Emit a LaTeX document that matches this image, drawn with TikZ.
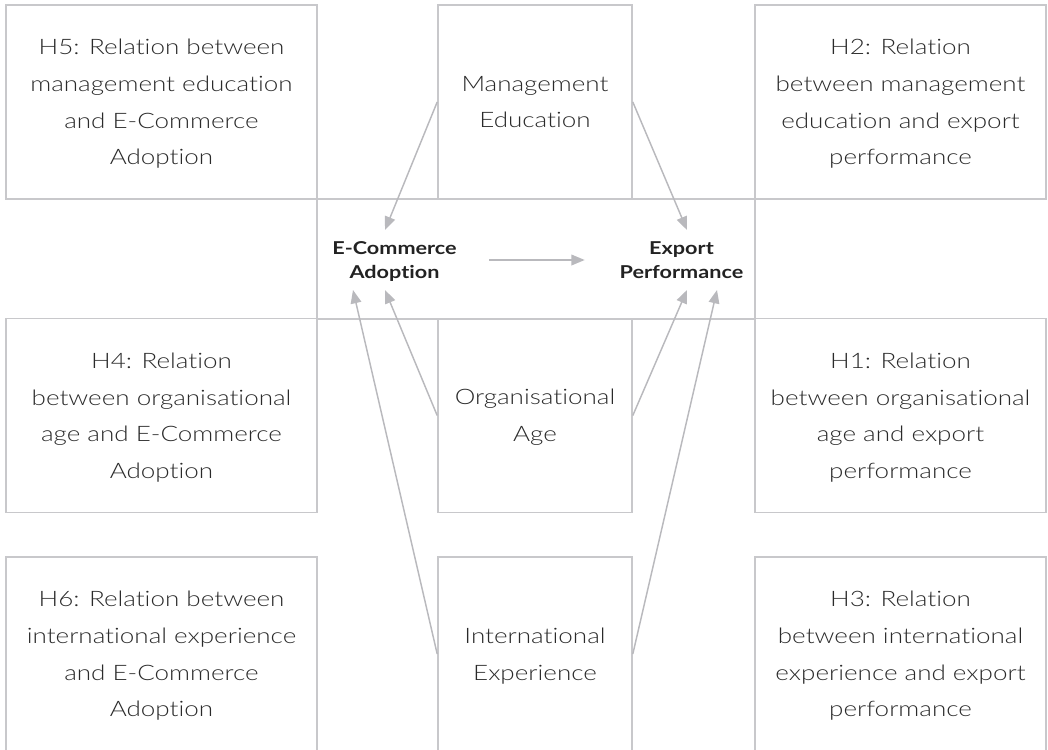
\documentclass[tikz,border=0pt]{standalone}
\usepackage{fontspec}
\IfFontExistsTF{Lato Light}{%
  \setmainfont{Lato Light}[FakeStretch=1.22, Ligatures=NoCommon,
    BoldFont=Lato Bold, BoldFeatures={FakeStretch=1.22}]}{%
  \setmainfont{Lato}[FakeStretch=1.22, Ligatures=NoCommon]}
\usetikzlibrary{arrows.meta}
\definecolor{frame}{HTML}{C8C8CB}
\definecolor{linkc}{HTML}{B9B9BD}
\definecolor{ink}{HTML}{2A2A2A}
\definecolor{inkdark}{HTML}{222222}
\tikzset{
  cell/.style={draw=frame, line width=1.2pt, rectangle, inner sep=0pt,
    align=center, text=ink, font=\fontsize{16}{27.4}\selectfont,
    text depth=0pt, minimum height=145.5pt},
  sidebox/.style={cell, minimum width=233.25pt},
  corebox/.style={cell, minimum width=145.5pt},
  farbox/.style={cell, minimum width=218.25pt},
  factor/.style={inner sep=0pt, align=center, text=inkdark, text depth=0pt,
    font=\bfseries\fontsize{13.3}{18}\selectfont, minimum height=45pt},
  link/.style={draw=linkc, line width=1.1pt,
    -{Triangle[length=10pt,width=8pt]}}
}
\begin{document}
\begin{tikzpicture}[x=0.75pt,y=-0.75pt]
\clip (0,0) rectangle (1048,749);

% central band holding the two outcome variables
\node[draw=frame, line width=1.2pt, minimum width=328.5pt, minimum height=90pt,
  inner sep=0pt] (band) at (536,259) {};

% top row
\node[sidebox] (h5) at (161.5,102) {H5: Relation between\\management education\\and E-Commerce\\Adoption};
\node[corebox] (me) at (535,102) {Management\\Education};
\node[farbox]  (h2) at (900.5,102) {H2: Relation\\between management\\education and export\\performance};

% middle row
\node[sidebox] (h4) at (161.5,415.5) {H4: Relation\\between organisational\\age and E-Commerce\\Adoption};
\node[corebox] (oa) at (535,415.5) {Organisational\\Age};
\node[farbox]  (h1) at (900.5,415.5) {H1: Relation\\between organisational\\age and export\\performance};

% bottom row (runs past the lower edge)
\node[sidebox] (h6) at (161.5,654) {H6: Relation between\\international experience\\and E-Commerce\\Adoption};
\node[corebox] (ie) at (535,654) {International\\Experience};
\node[farbox]  (h3) at (900.5,654) {H3: Relation\\between international\\experience and export\\performance};

% outcome variables
\node[factor, minimum width=141.75pt] (ec) at (394.5,260) {E-Commerce\\Adoption};
\node[factor, minimum width=144.75pt] (ep) at (681.5,260) {Export\\Performance};

% arrow tips around the outcome labels
\coordinate (ecTop)  at (385,230);
\coordinate (ecLowA) at (353,290);
\coordinate (ecLowB) at (385,290);
\coordinate (epTop)  at (687,230);
\coordinate (epLowA) at (687,290);
\coordinate (epLowB) at (717,290);

% connectors
\draw[link] (me.west) -- (ecTop);
\draw[link] (me.east) -- (epTop);
\draw[link] (oa.west) -- (ecLowB);
\draw[link] (ie.west) -- (ecLowA);
\draw[link] (oa.east) -- (epLowA);
\draw[link] (ie.east) -- (epLowB);
\draw[link] (ec.east) -- (ep.west);
\end{tikzpicture}
\end{document}
